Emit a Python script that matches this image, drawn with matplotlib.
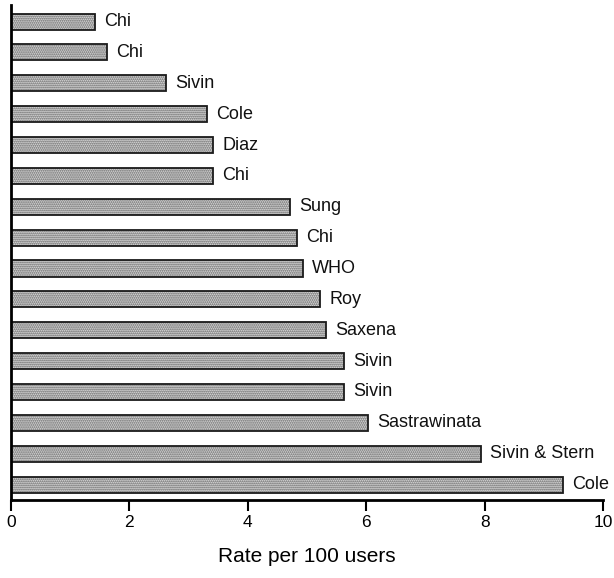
import matplotlib
matplotlib.use("Agg")
import matplotlib.pyplot as plt

plt.rcParams['font.family'] = ['Liberation Sans', 'DejaVu Sans']
plt.rcParams['hatch.linewidth'] = 0.9

# studies, top to bottom
authors = ["Chi", "Chi", "Sivin", "Cole", "Diaz", "Chi", "Sung", "Chi", "WHO",
           "Roy", "Saxena", "Sivin", "Sivin", "Sastrawinata", "Sivin & Stern", "Cole"]
rates = [1.42, 1.62, 2.62, 3.31, 3.41, 3.41, 4.71, 4.83, 4.93,
         5.22, 5.32, 5.62, 5.62, 6.03, 7.94, 9.32]
xticks = [0, 2, 4, 6, 8, 10]

fig = plt.figure(figsize=(6.14, 5.78), dpi=100)
ax = fig.add_axes([0.018, 0.135, 0.964, 0.857])

n = len(rates)
ypos = list(range(n - 1, -1, -1))
# stippled fill, then a plain dark outline on top
ax.barh(ypos, rates, height=0.52, color="#dcdcdc", edgecolor="#5a5a5a",
        hatch="........", linewidth=0)
ax.barh(ypos, rates, height=0.52, fill=False, edgecolor="#1a1a1a", linewidth=1.3)
for y, r, a in zip(ypos, rates, authors):
    ax.text(r + 0.16, y, a, va="center", ha="left", fontsize=13, color="#111111")

ax.set_xlim(0, 10)
ax.set_ylim(-0.5, n - 0.45)
ax.set_xticks(xticks)
ax.set_xticklabels([str(t) for t in xticks], fontsize=12.5)
ax.set_yticks([])
ax.tick_params(axis="x", direction="out", length=8, width=1.5, pad=3)
ax.spines["top"].set_visible(False)
ax.spines["right"].set_visible(False)
ax.spines["left"].set_linewidth(2)
ax.spines["bottom"].set_linewidth(2)
ax.set_xlabel("Rate per 100 users", fontsize=15, labelpad=12)

fig.savefig("out.png", dpi=100)
